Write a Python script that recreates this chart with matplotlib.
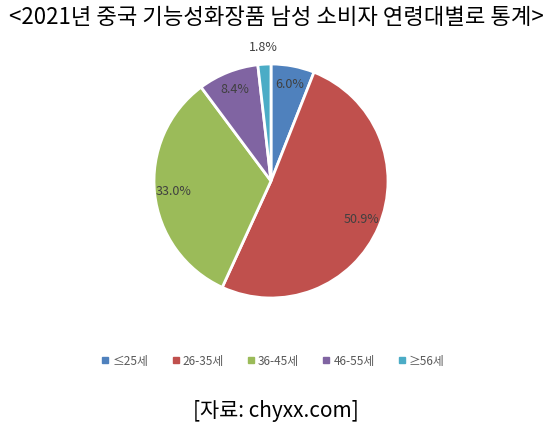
import numpy as np
import matplotlib.pyplot as plt
from matplotlib.lines import Line2D

plt.rcParams['font.family'] = ['Noto Sans CJK KR', 'DejaVu Sans']

# Data
categories = ['≤25세', '26-35세', '36-45세', '46-55세', '≥56세']
shares = [6.0, 50.9, 33.0, 8.4, 1.8]
colors = ['#4F81BD', '#C0504D', '#9BBB59', '#8064A2', '#4BACC6']
title = '<2021년 중국 기능성화장품 남성 소비자 연령대별로 통계>'
source = '[자료: chyxx.com]'

W, H = 552, 437
fig = plt.figure(figsize=(W / 100, H / 100), dpi=100)
fig.patch.set_facecolor('white')

# pie centre and radius in pixels
cx, cy, r = 271, 181, 117
ax = fig.add_axes([(cx - r) / W, (H - cy - r) / H, 2 * r / W, 2 * r / H])

wedges, _ = ax.pie(shares, colors=colors, startangle=90, counterclock=False,
                   wedgeprops=dict(edgecolor='white', linewidth=2))
ax.set_xlim(-1, 1)
ax.set_ylim(-1, 1)
ax.set_aspect('equal')
ax.axis('off')

# Percent labels, inside near the edge; the tiny slice goes outside
for w, v in zip(wedges, shares):
    ang = np.deg2rad((w.theta1 + w.theta2) / 2)
    dist = 1.14 if v < 3 else 0.84
    ax.text(dist * np.cos(ang), dist * np.sin(ang), f'{v:.1f}%',
            ha='center', va='center', fontsize=9, color='#404040',
            clip_on=False)

# Title and source
fig.text(0.5, 1 - 18 / H, title, ha='center', va='center', fontsize=16,
         color='black')
fig.text(0.5, 1 - 411 / H, source, ha='center', va='center', fontsize=15,
         color='black')

# Legend
handles = [Line2D([0], [0], marker='s', linestyle='none', markersize=5,
                  markerfacecolor=c, markeredgecolor=c) for c in colors]
fig.legend(handles, categories, loc='center', bbox_to_anchor=(0.494, 1 - 361 / H),
           ncol=5, frameon=False, fontsize=8.5, labelcolor='#595959',
           handletextpad=0.2, columnspacing=1.9, handlelength=0.8)

fig.savefig('out.png', dpi=100)
